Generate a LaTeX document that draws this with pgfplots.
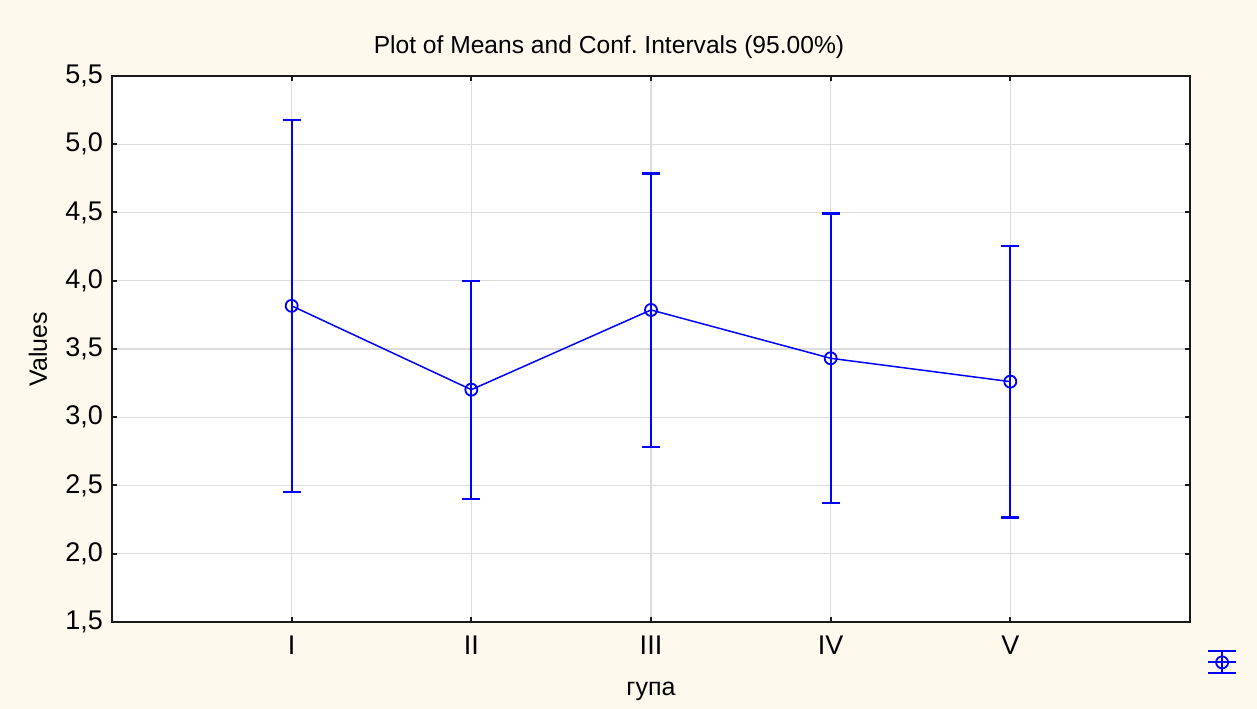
\documentclass[border=0pt]{standalone}
\usepackage{fontspec}
\setmainfont{Liberation Sans}
\usepackage{pgfplots}
\pgfplotsset{compat=1.18}
\definecolor{cream}{RGB}{254,249,237}
\definecolor{gridgray}{RGB}{220,220,220}
\definecolor{axdark}{RGB}{25,25,25}
\begin{document}
\begin{tikzpicture}
\path[use as bounding box, fill=cream] (-56bp,-43.5bp) rectangle (572.5bp,311bp);
\begin{axis}[
  scale only axis,
  width=539bp, height=273bp,
  at={(0,0)}, anchor=south west,
  axis background/.style={fill=white},
  xmin=-1, xmax=5, ymin=1.5, ymax=5.5,
  xtick={0,1,2,3,4}, xticklabels={I,II,III,IV,V},
  ytick={1.5,2,2.5,3,3.5,4,4.5,5,5.5},
  font=\fontsize{12.5bp}{15bp}\selectfont,
  ticklabel style={font=\fontsize{13.5bp}{16bp}\selectfont},
  /pgf/number format/.cd, fixed, fixed zerofill, precision=1, use comma, assume math mode=true,
  /pgfplots/.cd,
  tick align=inside,
  major tick length=2.5bp,
  tick style={axdark, line width=1bp},
  axis line style={axdark, line width=1bp},
  grid=major,
  major grid style={gridgray, line width=0.6bp},
  xticklabel style={yshift=-3.5bp},
  yticklabel style={xshift=-1bp},
  title={Plot of Means and Conf.\ Intervals (95.00\%)},
  title style={at={(rel axis cs:0.461,1)}, anchor=center, yshift=8.5bp, font=\fontsize{12.3bp}{15bp}\selectfont},
  ylabel={Values},
  ylabel style={at={(rel axis cs:0,0.5)}, anchor=center, yshift=37bp},
  xlabel={гупа},
  xlabel style={at={(rel axis cs:0.5,0)}, anchor=center, yshift=-34.5bp},
  legend style={at={(rel axis cs:1.0335,-0.074)}, anchor=center, draw=none, fill=none, inner sep=0pt, outer sep=0pt},
]
\addplot[blue, line width=0.75bp, mark=o, mark size=3bp, mark options={line width=0.9bp},
  legend image code/.code={
    \draw[blue, line width=1bp] (-7bp,5.5bp) -- (7bp,5.5bp) (-7bp,0bp) -- (7bp,0bp) (-7bp,-5.5bp) -- (7bp,-5.5bp) (0bp,-5.5bp) -- (0bp,5.5bp);
    \draw[blue, line width=0.9bp] (0,0) circle (3bp);
  },
  error bars/.cd, y dir=both, y explicit,
  error bar style={blue, line width=1bp},
  error mark options={rotate=90, mark size=4.5bp, line width=1.1bp, blue}]
coordinates {
  (0,3.816) += (0,1.359) -= (0,1.364)
  (1,3.202) += (0,0.798) -= (0,0.803)
  (2,3.786) += (0,1.000) -= (0,1.003)
  (3,3.432) += (0,1.061) -= (0,1.060)
  (4,3.261) += (0,0.993) -= (0,0.995)
};
\addlegendentry{}
\draw[axdark, line width=1bp] (rel axis cs:0,0) rectangle (rel axis cs:1,1);
\end{axis}
\end{tikzpicture}
\end{document}
